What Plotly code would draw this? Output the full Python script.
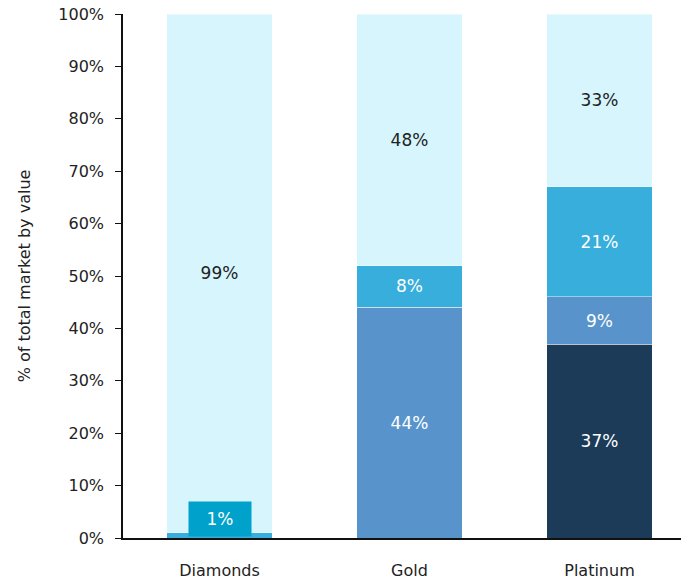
import plotly.graph_objects as go

categories = ["Diamonds", "Gold", "Platinum"]
series_names = ["Dark", "Medium", "Cyan", "Light"]
dark_vals = [0, 0, 37]
medium_vals = [0, 44, 9]
cyan_vals = [1, 8, 21]
light_vals = [99, 48, 33]
colors = ["#1C3B59", "#5894CB", "#37AEDB", "#D6F5FD"]
text_colors = ["white", "white", "white", "#222222"]
y_ticks = list(range(0, 101, 10))
y_tick_text = [f"{t}%" for t in y_ticks]

FONT = "DejaVu Sans"
all_vals = [dark_vals, medium_vals, cyan_vals, light_vals]

fig = go.Figure()
for name, vals, col, tcol in zip(series_names, all_vals, colors, text_colors):
    labels = []
    for c, v in zip(categories, vals):
        if v == 0 or (c == "Diamonds" and name == "Cyan"):
            labels.append("")
        else:
            labels.append(f"{v}%")
    fig.add_trace(go.Bar(
        x=categories, y=vals, name=name, marker_color=col,
        marker_line=dict(width=1, color="rgba(255,255,255,0.45)"),
        text=labels, textposition="inside", insidetextanchor="middle",
        textfont=dict(color=tcol, size=17, family=FONT),
        width=0.553, showlegend=False, textangle=0, hoverinfo="skip",
    ))

# Callout label for the tiny Diamonds segment
fig.add_annotation(x=categories[0], y=cyan_vals[0], yref="y", xref="x",
                   text=f"{cyan_vals[0]}%", showarrow=False, yanchor="bottom",
                   yshift=-4, bgcolor="#00A2CB", width=58, height=30, borderpad=2,
                   font=dict(color="white", size=17, family=FONT))

fig.update_layout(
    barmode="stack", width=681, height=581,
    margin=dict(l=123, r=0, t=14, b=43, autoexpand=False),
    plot_bgcolor="white", paper_bgcolor="white",
    font=dict(family=FONT, color="#222222", size=16),
)
fig.update_xaxes(range=[-0.508, 2.429], showline=True, linecolor="#111111", linewidth=2,
                 ticks="", tickfont=dict(size=16), ticklabelstandoff=17,
                 automargin=False, fixedrange=True)
fig.update_yaxes(range=[0, 100], tickmode="array", tickvals=y_ticks, ticktext=y_tick_text,
                 showgrid=False, showline=True, linecolor="#111111", linewidth=1.5,
                 ticks="outside", ticklen=6, tickcolor="#111111", tickfont=dict(size=16),
                 ticklabelstandoff=8, zeroline=False, automargin=False, fixedrange=True,
                 title=dict(text="% of total market by value", font=dict(size=16), standoff=24))

fig.write_html("out.html", config={"displayModeBar": False},
               post_script="document.body.style.margin='0';document.body.style.overflow='hidden';")
